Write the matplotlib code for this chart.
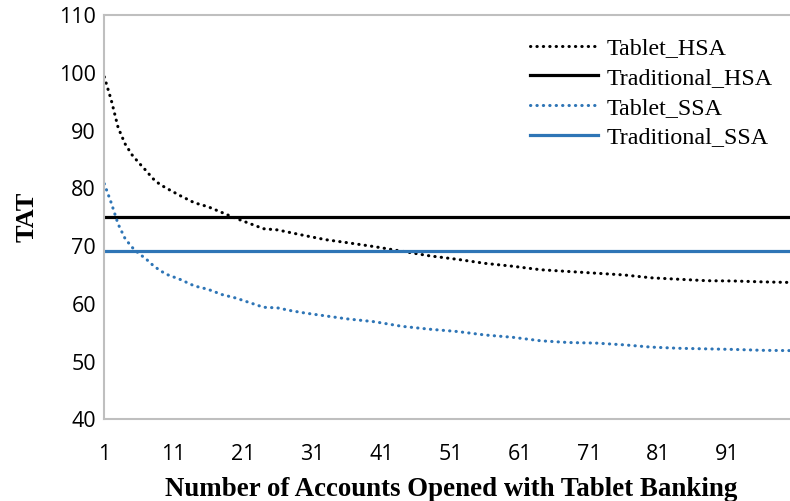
import numpy as np
from matplotlib import pyplot as plt

# values
x_pts = [1, 2, 3, 4, 5, 6, 7, 8, 9, 10, 12, 14, 16, 18, 20, 22, 24, 26, 28, 30,
         33, 36, 40, 44, 48, 52, 56, 60, 64, 68, 72, 76, 80, 84, 88, 92, 96, 100]
tablet_hsa = [99.3, 95.3, 90.5, 87.7, 85.8, 84.4, 83.1, 81.7, 80.7, 80.0, 78.7, 77.5,
              76.8, 75.8, 74.8, 73.9, 73.0, 72.8, 72.3, 71.8, 71.1, 70.6, 69.9, 69.1,
              68.3, 67.7, 67.0, 66.5, 65.9, 65.6, 65.3, 65.0, 64.5, 64.25, 64.0, 63.95,
              63.8, 63.7]
tablet_ssa = [80.8, 77.5, 73.8, 71.3, 69.8, 68.7, 67.8, 66.7, 65.8, 65.1, 64.2, 63.1,
              62.5, 61.6, 61.0, 60.2, 59.4, 59.3, 58.8, 58.4, 57.9, 57.4, 56.9, 56.1,
              55.6, 55.2, 54.6, 54.2, 53.6, 53.3, 53.2, 52.9, 52.5, 52.3, 52.2, 52.1,
              51.95, 51.9]
traditional_hsa = 75.0
traditional_ssa = 69.2
x_ticks = [1, 11, 21, 31, 41, 51, 61, 71, 81, 91]
y_ticks = [40, 50, 60, 70, 80, 90, 100, 110]

blue = '#2E75B6'

fig = plt.figure(figsize=(7.9, 5.01), dpi=100)
ax = fig.add_axes([0.132, 0.163, 0.868, 0.807])

dot = (0, (0.1, 2.0))
ax.plot(x_pts, tablet_hsa, color='black', lw=2.2, linestyle=dot,
        dash_capstyle='round', label='Tablet_HSA')
ax.plot([1, 100], [traditional_hsa] * 2, color='black', lw=2.3, label='Traditional_HSA')
ax.plot(x_pts, tablet_ssa, color=blue, lw=2.2, linestyle=dot,
        dash_capstyle='round', label='Tablet_SSA')
ax.plot([1, 100], [traditional_ssa] * 2, color=blue, lw=2.3, label='Traditional_SSA')

ax.set_xlim(1, 100)
ax.set_ylim(40, 110)
ax.set_xticks(x_ticks)
ax.set_yticks(y_ticks)
ax.tick_params(length=0, labelsize=15.5)
ax.tick_params(axis='x', pad=18)
ax.tick_params(axis='y', pad=6)
for t in ax.get_xticklabels() + ax.get_yticklabels():
    t.set_family('Open Sans')

for s in ['left', 'bottom', 'top']:
    ax.spines[s].set_color('#BFBFBF')
    ax.spines[s].set_linewidth(1.5)
ax.spines['right'].set_visible(False)

ax.set_xlabel('Number of Accounts Opened with Tablet Banking', family='Liberation Serif',
              weight='bold', fontsize=19.4, labelpad=8)
ax.xaxis.set_label_coords(0.506, -0.142)
ax.set_ylabel('TAT', family='Liberation Serif', weight='bold', fontsize=19, labelpad=15)

ax.legend(loc='upper left', bbox_to_anchor=(0.621, 0.945), frameon=False,
          borderaxespad=0, borderpad=0,
          prop={'family': 'Liberation Serif', 'size': 17.3}, handlelength=2.83,
          labelspacing=0.33, handletextpad=0.37)

fig.savefig('out.png', dpi=100)
